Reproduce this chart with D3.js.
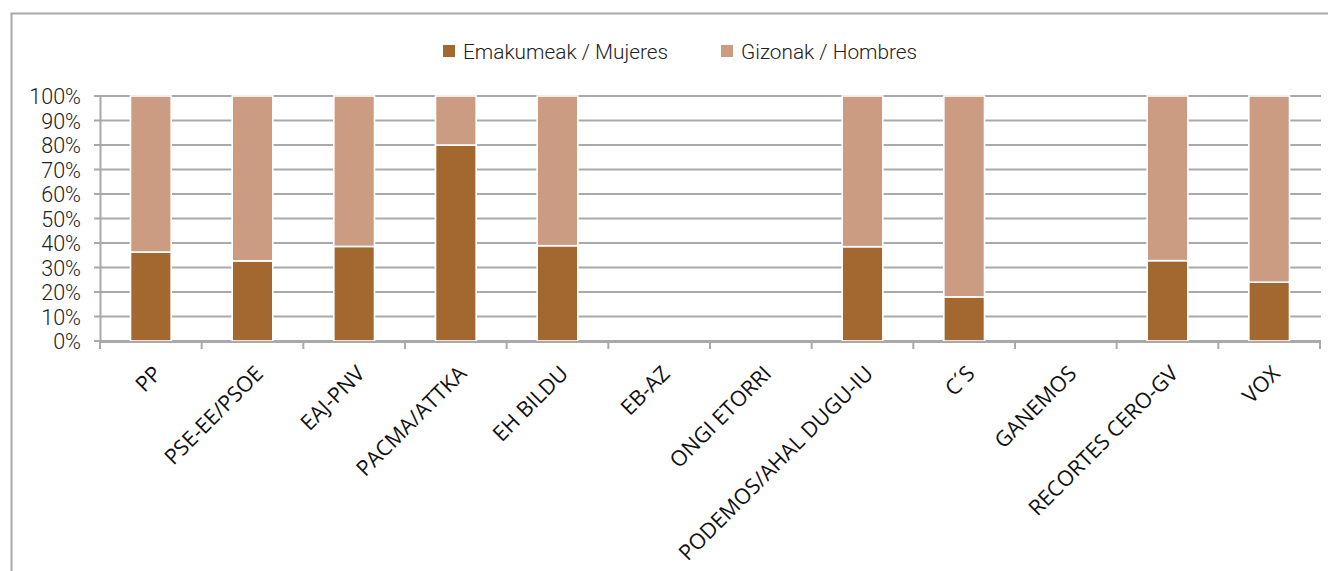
<!DOCTYPE html>
<html><head><meta charset="utf-8">
<script src="https://cdn.jsdelivr.net/npm/d3@7"></script>
<style>
body{margin:0;background:#fff;}
svg{display:block;}
</style></head>
<body>
<svg id="chart" width="1328" height="571"></svg>
<script>
const categories = ["PP","PSE-EE/PSOE","EAJ-PNV","PACMA/ATTKA","EH BILDU","EB-AZ","ONGI ETORRI","PODEMOS/AHAL DUGU-IU","C´S","GANEMOS","RECORTES CERO-GV","VOX"];
const women = [36.3, 32.7, 38.6, 80.0, 38.9, null, null, 38.5, 18.0, null, 32.8, 24.0];
const men   = [63.7, 67.3, 61.4, 20.0, 61.1, null, null, 61.5, 82.0, null, 67.2, 76.0];
const seriesNames = ["Emakumeak / Mujeres","Gizonak / Hombres"];
const seriesColors = ["#a3682f","#cb9b82"];
const yTicks = [0,10,20,30,40,50,60,70,80,90,100];

const svg = d3.select("#chart");
const m = {left:100, right:1320, top:96, bottom:341};

// outer frame
svg.append("rect").attr("x",11.5).attr("y",13.5).attr("width",1400).attr("height",1000)
  .attr("fill","none").attr("stroke","#a8a8a8").attr("stroke-width",2);

const x = d3.scaleBand().domain(categories).range([m.left,m.right]).paddingInner(0.6).paddingOuter(0.3);
const xb = d3.scaleBand().domain(categories).range([m.left,m.right]);
const y = d3.scaleLinear().domain([0,100]).range([m.bottom,m.top]);

// gridlines
svg.append("g").selectAll("line").data(yTicks).join("line")
  .attr("x1",m.left-6).attr("x2",m.right+1)
  .attr("y1",d=>y(d)).attr("y2",d=>y(d))
  .attr("stroke","#a9a9ab").attr("stroke-width",2);

// y axis
const yAxis = d3.axisLeft(y).tickValues(yTicks).tickFormat(d=>d+"%").tickSize(0).tickPadding(19);
const gy = svg.append("g").attr("transform",`translate(${m.left},0)`).call(yAxis);
gy.select(".domain").attr("stroke","#a9a9ab").attr("stroke-width",2);
gy.selectAll("text").attr("font-family","Roboto, 'Liberation Sans', sans-serif").attr("font-weight",300)
  .attr("font-size",21.5).attr("fill","#222").attr("dy","0.36em");

// bars
const stacked = categories.map((c,i)=>({c, w:women[i], h:men[i]}));
const gb = svg.append("g");
stacked.forEach(d=>{
  if(d.w==null) return;
  gb.append("rect").attr("x",x(d.c)).attr("width",x.bandwidth())
    .attr("y",y(d.w)).attr("height",y(0)-y(d.w))
    .attr("fill",seriesColors[0]).attr("stroke","#fff").attr("stroke-width",1.6);
  gb.append("rect").attr("x",x(d.c)).attr("width",x.bandwidth())
    .attr("y",y(d.w+d.h)).attr("height",y(d.w)-y(d.w+d.h))
    .attr("fill",seriesColors[1]).attr("stroke","#fff").attr("stroke-width",1.6);
});

// x axis
const gx = svg.append("g").attr("transform",`translate(0,${m.bottom+1})`);
gx.append("line").attr("x1",m.left).attr("x2",m.right).attr("stroke","#a9a9ab").attr("stroke-width",2);
const bounds = categories.map(c=>xb(c)).concat([m.right]);
gx.selectAll("line.tk").data(bounds).join("line").attr("class","tk")
  .attr("x1",d=>d).attr("x2",d=>d).attr("y1",0).attr("y2",7)
  .attr("stroke","#a9a9ab").attr("stroke-width",2);
gx.selectAll("text").data(categories).join("text")
  .attr("transform",d=>`translate(${xb(d)+xb.bandwidth()/2+12},${33}) rotate(-45)`)
  .attr("text-anchor","end")
  .attr("font-family","'Open Sans', sans-serif").attr("font-size",21.5).attr("fill","#111")
  .text(d=>d);

// legend
const leg = svg.append("g");
const legX = [443, 721];
seriesNames.forEach((n,i)=>{
  leg.append("rect").attr("x",legX[i]).attr("y",45).attr("width",12).attr("height",12).attr("fill",seriesColors[i]);
  leg.append("text").attr("x",legX[i]+20).attr("y",58.5).text(n)
    .attr("font-family","Roboto, 'Liberation Sans', sans-serif").attr("font-weight",300)
    .attr("font-size",20.8).attr("fill","#222");
});
</script>
</body></html>
